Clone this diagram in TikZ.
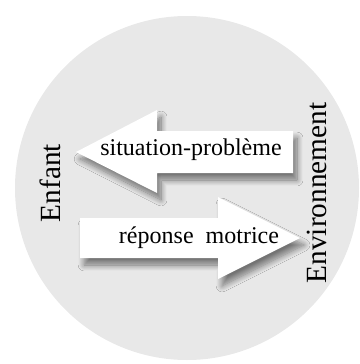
\documentclass[tikz,border=0pt]{standalone}
\usepackage{fontspec}
\setmainfont{Liberation Serif}
\usetikzlibrary{shadows.blur}

\tikzset{
    pad/.style={fill=white, blur shadow={shadow xshift=3.5pt, shadow yshift=-6pt, shadow blur steps=12, shadow blur radius=5pt, shadow opacity=50}},
    side/.style={rotate=90, font=\fontsize{25}{28}\selectfont},
    flux/.style={font=\fontsize{20.5}{24}\selectfont}
}

\begin{document}
\begin{tikzpicture}[x=0.03cm, y=-0.03cm]
    \useasboundingbox (0,0) rectangle (359,364);
    \fill[black!9] (187,188) circle (172);
    % fleche du haut (vers l'enfant)
    \path[pad] (76,152) -- (157,110) -- (157,131) -- (293,131) -- (293,173) -- (157,173) -- (157,193) -- cycle;
    % fleche du bas (vers l'environnement)
    \path[pad] (80,218) -- (218,218) -- (218,197) -- (300,238) -- (218,279) -- (218,258) -- (80,258) -- cycle;
    \node[flux] (sit) at (191,150) {situation-problème};
    \node[flux] (rep) at (199,238) {réponse\ \ motrice};
    \node[side] (enf) at (50,183) {Enfant};
    \node[side] (env) at (317,193) {Environnement};
\end{tikzpicture}
\end{document}
